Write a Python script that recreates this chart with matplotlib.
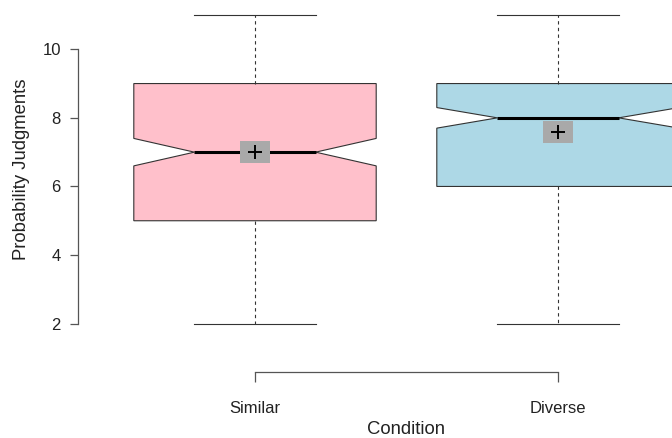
import matplotlib.pyplot as plt
from matplotlib.patches import Rectangle

conditions = ['Similar', 'Diverse']
q1 = [5, 6]
medians = [7, 8]
q3 = [9, 9]
whisker_low = [2, 2]
whisker_high = [11, 11]
notch_low = [6.6, 7.7]
notch_high = [7.4, 8.3]
means = [7.0, 7.6]
fills = ['#FFC0CB', '#ADD8E6']

plt.rcParams['font.family'] = ['Liberation Sans', 'DejaVu Sans']

W, H = 672, 438
fig = plt.figure(figsize=(W / 100, H / 100), dpi=100)
# plot region in pixels (R style: xlim 0.5..2.5, extends past right edge)
left, right, top, bottom = 103.5, 709.5, 2.6, 336
ax = fig.add_axes([left / W, 1 - bottom / H, (right - left) / W, (bottom - top) / H])

stats = []
for i, name in enumerate(conditions):
    stats.append(dict(label=name, med=medians[i], q1=q1[i], q3=q3[i],
                      whislo=whisker_low[i], whishi=whisker_high[i],
                      cilo=notch_low[i], cihi=notch_high[i],
                      mean=means[i], fliers=[]))

edge = '#333333'
bp = ax.bxp(stats, positions=[1, 2], widths=0.8, shownotches=True, patch_artist=True,
            showfliers=False, showmeans=False,
            boxprops=dict(edgecolor=edge, linewidth=0.8),
            medianprops=dict(color='black', linewidth=2.2),
            whiskerprops=dict(color=edge, linewidth=0.8, linestyle=(0, (3, 3))),
            capprops=dict(color=edge, linewidth=0.8))
for patch, c in zip(bp['boxes'], fills):
    patch.set_facecolor(c)

# mean marker: grey box with a plus
bw, bh = 0.102, 0.64
for i, m in enumerate(means):
    ax.add_patch(Rectangle((i + 1 - bw / 2, m - bh / 2), bw, bh,
                           facecolor='#A9A9A9', edgecolor='none', zorder=5))
    ax.plot(i + 1, m, marker='+', markersize=10, mew=1.4, color='black', zorder=6)

ax.set_xlim(0.5, 2.5)
ax.set_ylim(1.64, 11.36)

for s in ['top', 'right']:
    ax.spines[s].set_visible(False)
ax.spines['left'].set_position(('outward', 18.4))
ax.spines['left'].set_bounds(2, 10)
ax.spines['bottom'].set_position(('outward', 26))
ax.spines['bottom'].set_bounds(1, 2)
for s in ['left', 'bottom']:
    ax.spines[s].set_color('#555555')
    ax.spines[s].set_linewidth(0.9)

ax.set_yticks([2, 4, 6, 8, 10])
ax.set_xticks([1, 2])
ax.set_xticklabels(conditions)
ax.tick_params(axis='y', length=5.8, width=0.9, color='#555555', labelsize=12,
               labelcolor='#222222', pad=6.5)
ax.tick_params(axis='x', length=7, width=0.9, color='#555555', labelsize=12,
               labelcolor='#222222', pad=14)

ax.set_ylabel('Probability Judgments', fontsize=13.3, color='#222222', labelpad=9)
ax.set_xlabel('Condition', fontsize=13.3, color='#222222', labelpad=3.5)

fig.savefig('out.png', dpi=100)
